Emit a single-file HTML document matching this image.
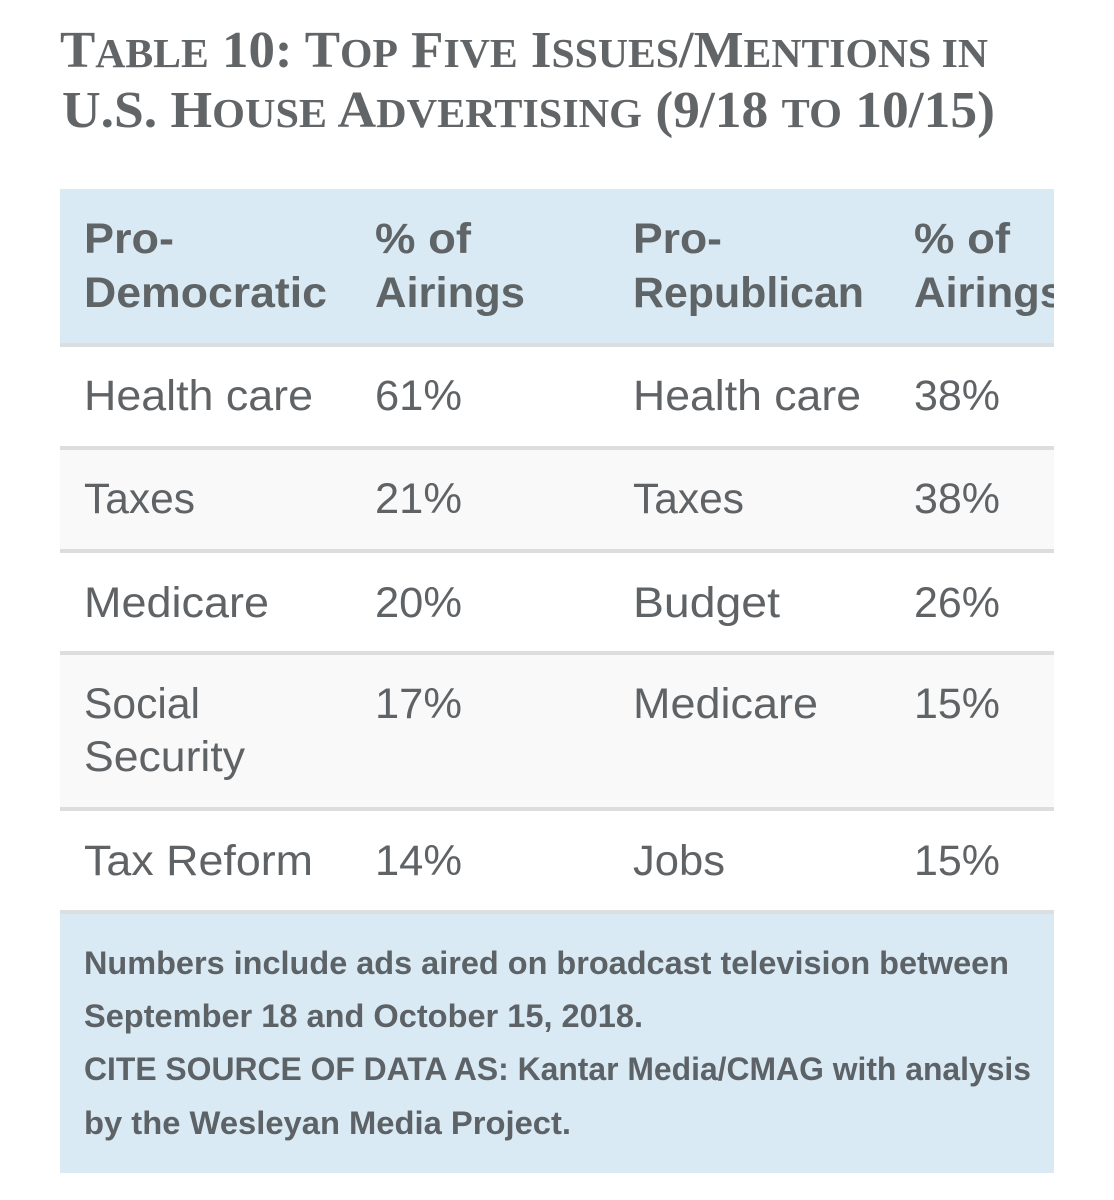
<!DOCTYPE html>
<html lang="en">
<head>
<meta charset="utf-8">
<title>Table 10</title>
<style>
html,body{margin:0;padding:0;background:#fff;}
svg{display:block;}
.title{font-family:"Liberation Serif",serif;font-weight:700;font-size:52px;fill:#626567;}
.title tspan{font-size:41px;}
.head{font-family:"Liberation Sans",sans-serif;font-weight:700;font-size:43px;fill:#5f6467;}
.cell{font-family:"Liberation Sans",sans-serif;font-size:43px;fill:#606366;}
.note{font-family:"Liberation Sans",sans-serif;font-weight:700;font-size:32px;fill:#5c6266;}
</style>
</head>
<body>
<svg width="1114" height="1200" viewBox="0 0 1114 1200" xmlns="http://www.w3.org/2000/svg">
<defs><clipPath id="tc"><rect x="60" y="189" width="994" height="985"/></clipPath></defs>
<rect width="1114" height="1200" fill="#fff"/>
<text class="title" x="60" y="67" textLength="928" lengthAdjust="spacingAndGlyphs">T<tspan>ABLE</tspan> 10: T<tspan>OP</tspan> F<tspan>IVE</tspan> I<tspan>SSUES</tspan>/M<tspan>ENTIONS IN</tspan></text>
<text class="title" x="62" y="127" textLength="933" lengthAdjust="spacingAndGlyphs">U.S. H<tspan>OUSE</tspan> A<tspan>DVERTISING</tspan> (9/18 <tspan>TO</tspan> 10/15)</text>
<g>
<rect x="60" y="189" width="994" height="154" fill="#daeaf4"/>
<rect x="60" y="343" width="994" height="4" fill="#dcdfe0"/>
<rect x="60" y="449" width="994" height="100" fill="#f9f9f9"/>
<rect x="60" y="655" width="994" height="152" fill="#f9f9f9"/>
<rect x="60" y="446" width="994" height="4" fill="#dcdddd"/>
<rect x="60" y="549" width="994" height="4" fill="#dcdddd"/>
<rect x="60" y="651" width="994" height="4" fill="#dcdddd"/>
<rect x="60" y="807" width="994" height="4" fill="#dcdddd"/>
<rect x="60" y="914" width="994" height="259" fill="#daeaf4"/>
<rect x="60" y="910" width="994" height="4" fill="#dcdfe0"/>
</g>
<g clip-path="url(#tc)">
<text class="head" x="84" y="253" textLength="90" lengthAdjust="spacingAndGlyphs">Pro-</text>
<text class="head" x="84" y="307" textLength="243" lengthAdjust="spacingAndGlyphs">Democratic</text>
<text class="head" x="375" y="253" textLength="96" lengthAdjust="spacingAndGlyphs">% of</text>
<text class="head" x="375" y="307" textLength="150" lengthAdjust="spacingAndGlyphs">Airings</text>
<text class="head" x="633" y="253" textLength="89" lengthAdjust="spacingAndGlyphs">Pro-</text>
<text class="head" x="633" y="307" textLength="231" lengthAdjust="spacingAndGlyphs">Republican</text>
<text class="head" x="914" y="253" textLength="96" lengthAdjust="spacingAndGlyphs">% of</text>
<text class="head" x="914" y="307" textLength="150" lengthAdjust="spacingAndGlyphs">Airings</text>

<text class="cell" x="84" y="410" textLength="229" lengthAdjust="spacingAndGlyphs">Health care</text>
<text class="cell" x="375" y="410" textLength="87" lengthAdjust="spacingAndGlyphs">61%</text>
<text class="cell" x="633" y="410" textLength="228" lengthAdjust="spacingAndGlyphs">Health care</text>
<text class="cell" x="914" y="410" textLength="86" lengthAdjust="spacingAndGlyphs">38%</text>

<text class="cell" x="84" y="513" textLength="111" lengthAdjust="spacingAndGlyphs">Taxes</text>
<text class="cell" x="375" y="513" textLength="87" lengthAdjust="spacingAndGlyphs">21%</text>
<text class="cell" x="633" y="513" textLength="111" lengthAdjust="spacingAndGlyphs">Taxes</text>
<text class="cell" x="914" y="513" textLength="86" lengthAdjust="spacingAndGlyphs">38%</text>

<text class="cell" x="84" y="617" textLength="185" lengthAdjust="spacingAndGlyphs">Medicare</text>
<text class="cell" x="375" y="617" textLength="87" lengthAdjust="spacingAndGlyphs">20%</text>
<text class="cell" x="633" y="617" textLength="147" lengthAdjust="spacingAndGlyphs">Budget</text>
<text class="cell" x="914" y="617" textLength="86" lengthAdjust="spacingAndGlyphs">26%</text>

<text class="cell" x="84" y="718" textLength="116" lengthAdjust="spacingAndGlyphs">Social</text>
<text class="cell" x="84" y="771" textLength="161" lengthAdjust="spacingAndGlyphs">Security</text>
<text class="cell" x="375" y="718" textLength="87" lengthAdjust="spacingAndGlyphs">17%</text>
<text class="cell" x="633" y="718" textLength="185" lengthAdjust="spacingAndGlyphs">Medicare</text>
<text class="cell" x="914" y="718" textLength="86" lengthAdjust="spacingAndGlyphs">15%</text>

<text class="cell" x="84" y="875" textLength="229" lengthAdjust="spacingAndGlyphs">Tax Reform</text>
<text class="cell" x="375" y="875" textLength="87" lengthAdjust="spacingAndGlyphs">14%</text>
<text class="cell" x="633" y="875" textLength="92" lengthAdjust="spacingAndGlyphs">Jobs</text>
<text class="cell" x="914" y="875" textLength="86" lengthAdjust="spacingAndGlyphs">15%</text>

<text class="note" x="84" y="974" textLength="925" lengthAdjust="spacingAndGlyphs">Numbers include ads aired on broadcast television between</text>
<text class="note" x="84" y="1027" textLength="559" lengthAdjust="spacingAndGlyphs">September 18 and October 15, 2018.</text>
<text class="note" x="84" y="1080" textLength="947" lengthAdjust="spacingAndGlyphs">CITE SOURCE OF DATA AS: Kantar Media/CMAG with analysis</text>
<text class="note" x="84" y="1134" textLength="487" lengthAdjust="spacingAndGlyphs">by the Wesleyan Media Project.</text>
</g>
</svg>
</body>
</html>
